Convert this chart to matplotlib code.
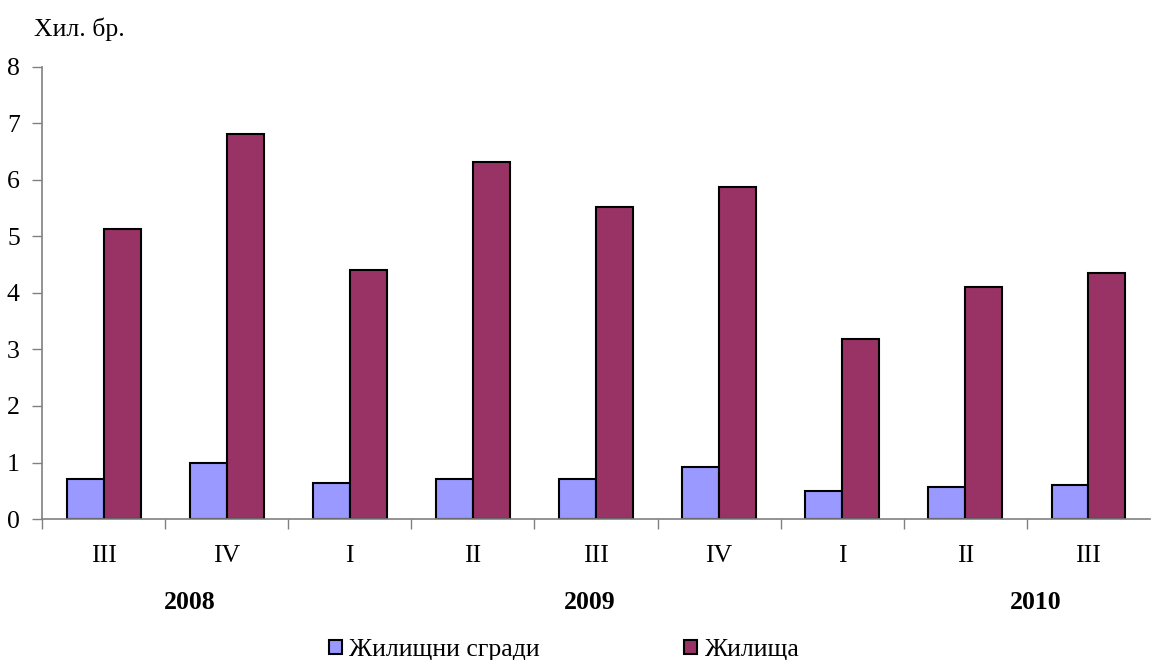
import numpy as np
import matplotlib
matplotlib.use('Agg')
import matplotlib.pyplot as plt
from matplotlib.patches import Patch

plt.rcParams['font.family'] = ['Liberation Serif', 'DejaVu Serif']

# данни
quarters = ['III', 'IV', 'I', 'II', 'III', 'IV', 'I', 'II', 'III']
years = ['2008', '2009', '2010']
year_pos = [0.7, 3.95, 7.57]
buildings = [0.71, 0.99, 0.64, 0.71, 0.71, 0.92, 0.50, 0.57, 0.60]
dwellings = [5.13, 6.81, 4.41, 6.32, 5.52, 5.88, 3.19, 4.11, 4.35]

c_blue = '#9999FF'
c_purple = '#993366'
axis_col = '#808080'
fs = 18.5

fig = plt.figure(figsize=(11.68, 6.6), dpi=100)
ax = fig.add_axes([0.036, 0.2136, 0.9486, 0.685])

x = np.arange(len(quarters))
w = 0.3
ax.bar(x - w / 2, buildings, w, color=c_blue, edgecolor='black', linewidth=1.5)
ax.bar(x + w / 2, dwellings, w, color=c_purple, edgecolor='black', linewidth=1.5)

ax.set_xlim(-0.5, len(quarters) - 0.5)
ax.set_ylim(0, 8)
ax.set_yticks(range(0, 9))
ax.tick_params(axis='y', labelsize=fs, length=7, width=1, color=axis_col, pad=9)

# делителни чертички между категориите
ax.set_xticks(np.arange(-0.5, len(quarters) - 0.5, 1.0))
ax.set_xticklabels([])
ax.tick_params(axis='x', length=7, width=1, color=axis_col)

for s in ['top', 'right']:
    ax.spines[s].set_visible(False)
for s in ['left', 'bottom']:
    ax.spines[s].set_color(axis_col)
    ax.spines[s].set_linewidth(1.2)

tr = ax.get_xaxis_transform()
for i, q in enumerate(quarters):
    ax.text(i, -0.082, q, transform=tr, ha='center', va='center', fontsize=fs)
for p, y in zip(year_pos, years):
    ax.text(p, -0.184, y, transform=tr, ha='center', va='center', fontsize=fs, fontweight='bold')

fig.text(0.029, 0.955, 'Хил. бр.', ha='left', va='center', fontsize=fs)

handles = [Patch(facecolor=c_blue, edgecolor='black', linewidth=1.5),
           Patch(facecolor=c_purple, edgecolor='black', linewidth=1.5)]
fig.legend(handles, ['Жилищни сгради', 'Жилища'], loc='center', bbox_to_anchor=(0.483, 0.015),
           ncol=2, frameon=False, fontsize=fs, columnspacing=5.6, handlelength=0.5,
           handleheight=0.5, handletextpad=0.3)

fig.savefig('out.png', dpi=100)
